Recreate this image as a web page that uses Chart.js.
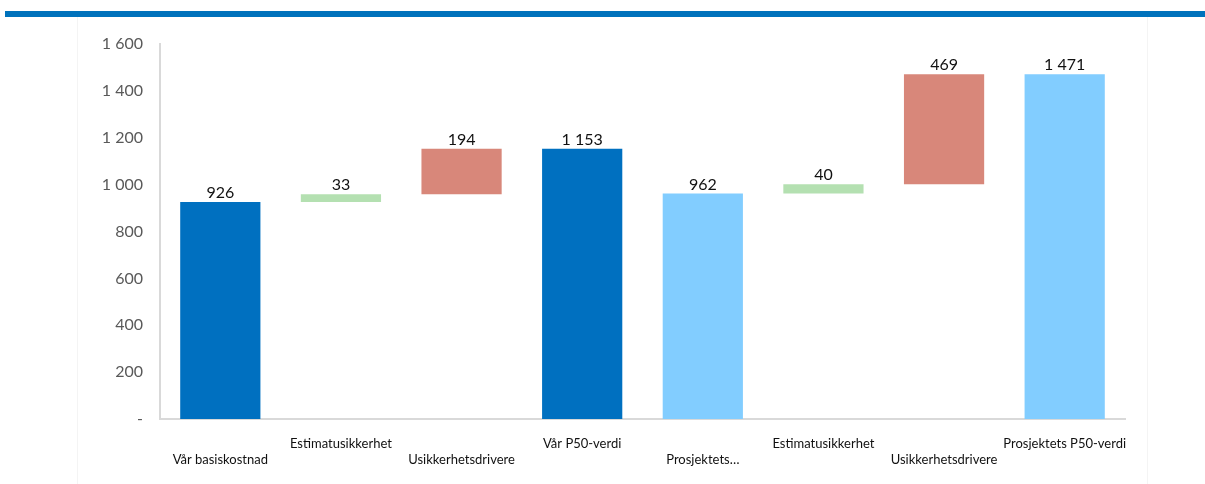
<!DOCTYPE html>
<html lang="no">
<head>
<meta charset="utf-8">
<title>Kostnadsutvikling</title>
<script src="https://cdn.jsdelivr.net/npm/chart.js@4/dist/chart.umd.min.js"></script>
<style>
  html, body { margin: 0; padding: 0; background: #fff; }
  body { width: 1205px; height: 484px; position: relative; overflow: hidden; }
  .rule { position: absolute; left: 5px; right: 0; top: 11px; height: 6px; background: #0072bc; }
  .frame { position: absolute; left: 77px; top: 17px; width: 1069px; height: 480px;
           border-left: 1px solid #f4f4f4; border-right: 1px solid #f4f4f4; }
  #wrap { position: absolute; left: 0; top: 0; width: 1205px; height: 484px; }
</style>
</head>
<body>
<div class="rule"></div>
<div class="frame"></div>
<div id="wrap"><canvas id="waterfall"></canvas></div>
<script>
  const categories = ["Vår basiskostnad", "Estimatusikkerhet", "Usikkerhetsdrivere", "Vår P50-verdi",
                      "Prosjektets…", "Estimatusikkerhet", "Usikkerhetsdrivere", "Prosjektets P50-verdi"];
  const values = [926, 33, 194, 1153, 962, 40, 469, 1471];
  // "total" bars start at zero, "delta" bars float on top of the running total
  const kinds = ["total", "delta", "delta", "total", "total", "delta", "delta", "total"];
  const yTicks = [0, 200, 400, 600, 800, 1000, 1200, 1400, 1600];

  const colors = {
    total: "#0070c0",
    project: "#82cdff",
    delta: "#b4e0b1",
    driver: "#d8877a"
  };

  let running = 0;
  const ranges = values.map((v, i) => {
    if (kinds[i] === "total") { running = v; return [0, v]; }
    const start = running;
    running += v;
    return [start, running];
  });

  const barColors = categories.map((c, i) => {
    if (kinds[i] === "delta") return c === "Estimatusikkerhet" ? colors.delta : colors.driver;
    return i < 4 ? colors.total : colors.project;
  });

  // stagger the category labels on two rows
  const tickLabels = categories.map((c, i) => i % 2 === 1 ? [c, ""] : ["", c]);

  const fmt = n => n === 0 ? "-" : String(n).replace(/\B(?=(\d{3})+(?!\d))/g, " ");

  const valueLabels = {
    id: "valueLabels",
    afterDatasetsDraw(chart) {
      const ctx = chart.ctx;
      const meta = chart.getDatasetMeta(0);
      ctx.save();
      ctx.font = "16px Lato, 'Noto Sans', sans-serif";
      ctx.fillStyle = "#111";
      ctx.textAlign = "center";
      ctx.textBaseline = "bottom";
      meta.data.forEach((bar, i) => {
        const top = Math.min(bar.y, bar.base);
        ctx.fillText(fmt(values[i]), bar.x, top - 1);
      });
      ctx.restore();
    }
  };

  new Chart(document.getElementById("waterfall"), {
    type: "bar",
    data: {
      labels: tickLabels,
      datasets: [{
        data: ranges,
        backgroundColor: barColors,
        borderWidth: 0,
        barPercentage: 0.665,
        categoryPercentage: 1
      }]
    },
    options: {
      responsive: true,
      maintainAspectRatio: false,
      animation: false,
      layout: { padding: { top: 44, right: 80, left: 0, bottom: 0 } },
      plugins: { legend: { display: false }, tooltip: { enabled: false } },
      scales: {
        x: {
          grid: { display: false, drawTicks: false },
          border: { color: "#d9d9d9", width: 2 },
          ticks: {
            color: "#111",
            font: { family: "Lato, 'Noto Sans', sans-serif", size: 13 },
            maxRotation: 0,
            autoSkip: false,
            padding: 17,
            lineHeight: 1.4
          },
          afterFit(scale) { scale.height = 65; }
        },
        y: {
          min: 0,
          max: 1600,
          afterBuildTicks(scale) { scale.ticks = yTicks.map(v => ({ value: v })); },
          grid: { display: false, drawTicks: false },
          border: { color: "#d9d9d9", width: 2 },
          ticks: {
            color: "#595959",
            font: { family: "Lato, 'Noto Sans', sans-serif", size: 16 },
            padding: 17,
            callback: v => fmt(v)
          },
          afterFit(scale) { scale.width = 160; }
        }
      }
    },
    plugins: [valueLabels]
  });
</script>
</body>
</html>
